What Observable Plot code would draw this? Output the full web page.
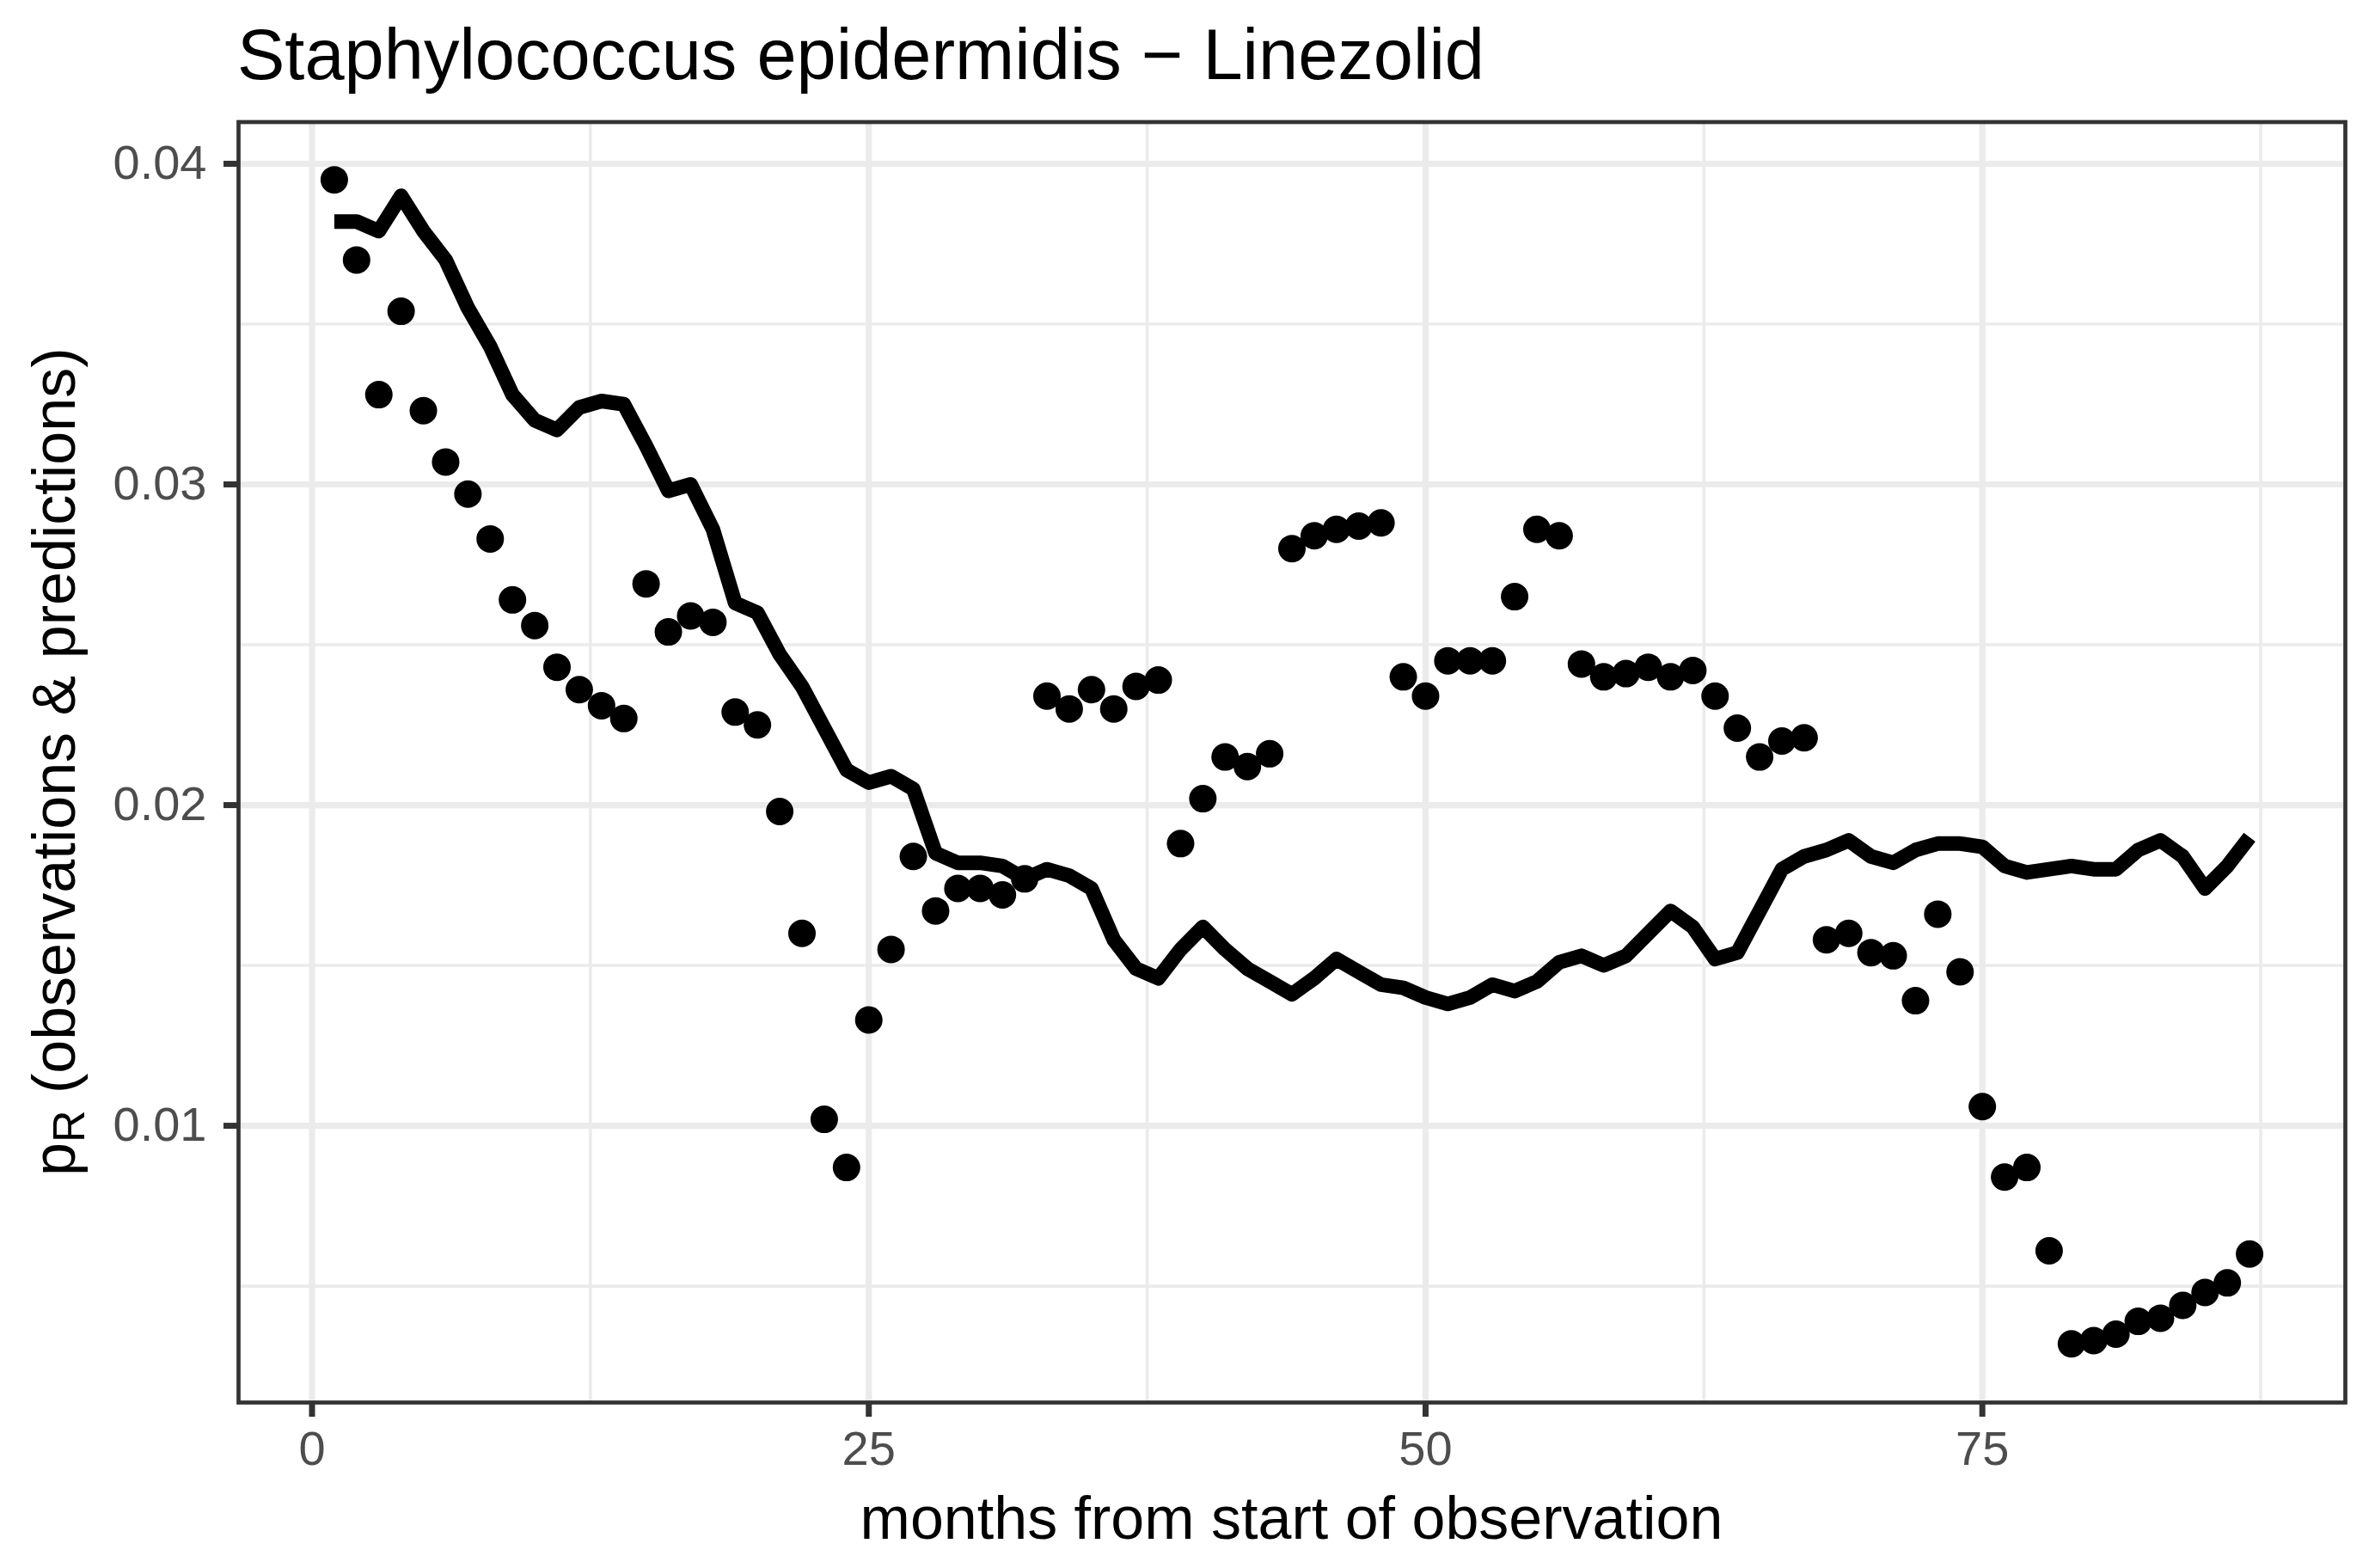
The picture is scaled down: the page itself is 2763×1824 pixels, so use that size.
<!DOCTYPE html>
<html>
<head>
<meta charset="utf-8">
<script src="https://cdn.jsdelivr.net/npm/d3@7"></script>
<script src="https://cdn.jsdelivr.net/npm/@observablehq/plot@0.6"></script>
<style>
  html, body { margin: 0; padding: 0; background: #ffffff; }
  #title {
    box-sizing: border-box; height: 130px; padding-top: 22px; padding-left: 276px;
    font-family: "Liberation Sans", Arial, Helvetica, sans-serif; font-size: 83px; line-height: 83px;
    color: #000000; white-space: nowrap;
  }
  #chart svg { display: block; }
</style>
</head>
<body>
<div id="title">Staphylococcus epidermidis − Linezolid</div>
<div id="chart"></div>
<script>
// month index (x)
const months = d3.range(1, 88);

// observed resistance proportions (points)
const observed = [
  0.0395, 0.0370, 0.0328, 0.0354, 0.0323, 0.0307, 0.0297, 0.0283, 0.0264, 0.0256,
  0.0243, 0.0236, 0.0231, 0.0227, 0.0269, 0.0254, 0.0259, 0.0257, 0.0229, 0.0225,
  0.0198, 0.0160, 0.0102, 0.0087, 0.0133, 0.0155, 0.0184, 0.0167, 0.0174, 0.0174,
  0.0172, 0.0177, 0.0234, 0.0230, 0.0236, 0.0230, 0.0237, 0.0239, 0.0188, 0.0202,
  0.0215, 0.0212, 0.0216, 0.0280, 0.0284, 0.0286, 0.0287, 0.0288, 0.0240, 0.0234,
  0.0245, 0.0245, 0.0245, 0.0265, 0.0286, 0.0284, 0.0244, 0.0240, 0.0241, 0.0243,
  0.0240, 0.0242, 0.0234, 0.0224, 0.0215, 0.0220, 0.0221, 0.0158, 0.0160, 0.0154,
  0.0153, 0.0139, 0.0166, 0.0148, 0.0106, 0.0084, 0.0087, 0.0061, 0.0032, 0.0033,
  0.0035, 0.0039, 0.0040, 0.0044, 0.0048, 0.0051, 0.0060
];

// predicted resistance proportions (line)
const predicted = [
  0.0382, 0.0382, 0.0379, 0.0390, 0.0379, 0.0370, 0.0355, 0.0343, 0.0328, 0.0320,
  0.0317, 0.0324, 0.0326, 0.0325, 0.0312, 0.0298, 0.0300, 0.0286, 0.0263, 0.0260,
  0.0247, 0.0237, 0.0224, 0.0211, 0.0207, 0.0209, 0.0205, 0.0185, 0.0182, 0.0182,
  0.0181, 0.0177, 0.0180, 0.0178, 0.0174, 0.0158, 0.0149, 0.0146, 0.0155, 0.0162,
  0.0155, 0.0149, 0.0145, 0.0141, 0.0146, 0.0152, 0.0148, 0.0144, 0.0143, 0.0140,
  0.0138, 0.0140, 0.0144, 0.0142, 0.0145, 0.0151, 0.0153, 0.0150, 0.0153, 0.0160,
  0.0167, 0.0162, 0.0152, 0.0154, 0.0167, 0.0180, 0.0184, 0.0186, 0.0189, 0.0184,
  0.0182, 0.0186, 0.0188, 0.0188, 0.0187, 0.0181, 0.0179, 0.0180, 0.0181, 0.0180,
  0.0180, 0.0186, 0.0189, 0.0184, 0.0174, 0.0181, 0.0190
];

// tick labels / gridlines
const xTicks = [0, 25, 50, 75];
const xMinor = [12.5, 37.5, 62.5, 87.5];
const yTicks = [0.01, 0.02, 0.03, 0.04];
const yMinor = [0.005, 0.015, 0.025, 0.035];

const xLabel = "months from start of observation";
const yLabelMain = "p";
const yLabelSub = "R";
const yLabelRest = " (observations & predictions)";

const data = months.map((m, i) => ({month: m, observed: observed[i], predicted: predicted[i]}));

const W = 2763, H = 1694;
const mL = 277, mR = 35, mT = 11.5, mB = 193;
const FONT = "'Liberation Sans', Arial, Helvetica, sans-serif";

const chart = Plot.plot({
  width: W, height: H,
  marginLeft: mL, marginRight: mR, marginTop: mT, marginBottom: mB,
  x: {domain: [-3.3, 91.3]},
  y: {domain: [0.00137, 0.0413]},
  style: {background: "#ffffff", fontFamily: FONT, overflow: "visible"},
  marks: [
    Plot.gridX(xMinor, {stroke: "#EBEBEB", strokeOpacity: 1, strokeWidth: 3.6}),
    Plot.gridY(yMinor, {stroke: "#EBEBEB", strokeOpacity: 1, strokeWidth: 3.6}),
    Plot.gridX(xTicks, {stroke: "#EBEBEB", strokeOpacity: 1, strokeWidth: 7.2}),
    Plot.gridY(yTicks, {stroke: "#EBEBEB", strokeOpacity: 1, strokeWidth: 7.2}),
    Plot.line(data, {x: "month", y: "predicted", stroke: "#000000", strokeWidth: 17,
      strokeLinejoin: "round", strokeLinecap: "butt"}),
    Plot.dot(data, {x: "month", y: "observed", r: 16, fill: "#000000", stroke: "none"}),
    Plot.frame({stroke: "#333333", strokeWidth: 4.7}),
    Plot.axisX(xTicks, {tickSize: 17, tickPadding: 16, strokeWidth: 7, stroke: "#333333",
      fill: "#4D4D4D", fontSize: 56, label: null, tickFormat: d => String(d)}),
    Plot.axisY(yTicks, {tickSize: 17, tickPadding: 20, strokeWidth: 7, stroke: "#333333",
      fill: "#4D4D4D", fontSize: 56, label: null, tickFormat: d3.format(".2f")})
  ]
});

document.getElementById("chart").appendChild(chart);

const svg = d3.select(chart);
// x axis title
svg.append("text")
  .attr("x", (mL + (W - mR)) / 2)
  .attr("y", 1660)
  .attr("text-anchor", "middle")
  .attr("font-family", FONT)
  .attr("font-size", 70)
  .attr("fill", "#000000")
  .text(xLabel);

// y axis title with subscript
const yt = svg.append("text")
  .attr("transform", `translate(86.5,${(mT + (H - mB)) / 2}) rotate(-90)`)
  .attr("text-anchor", "middle")
  .attr("font-family", FONT)
  .attr("font-size", 70)
  .attr("fill", "#000000");
yt.append("tspan").text(yLabelMain);
yt.append("tspan").attr("font-size", 52).attr("dy", 11).text(yLabelSub);
yt.append("tspan").attr("dy", -11).text(yLabelRest);
</script>
</body>
</html>
